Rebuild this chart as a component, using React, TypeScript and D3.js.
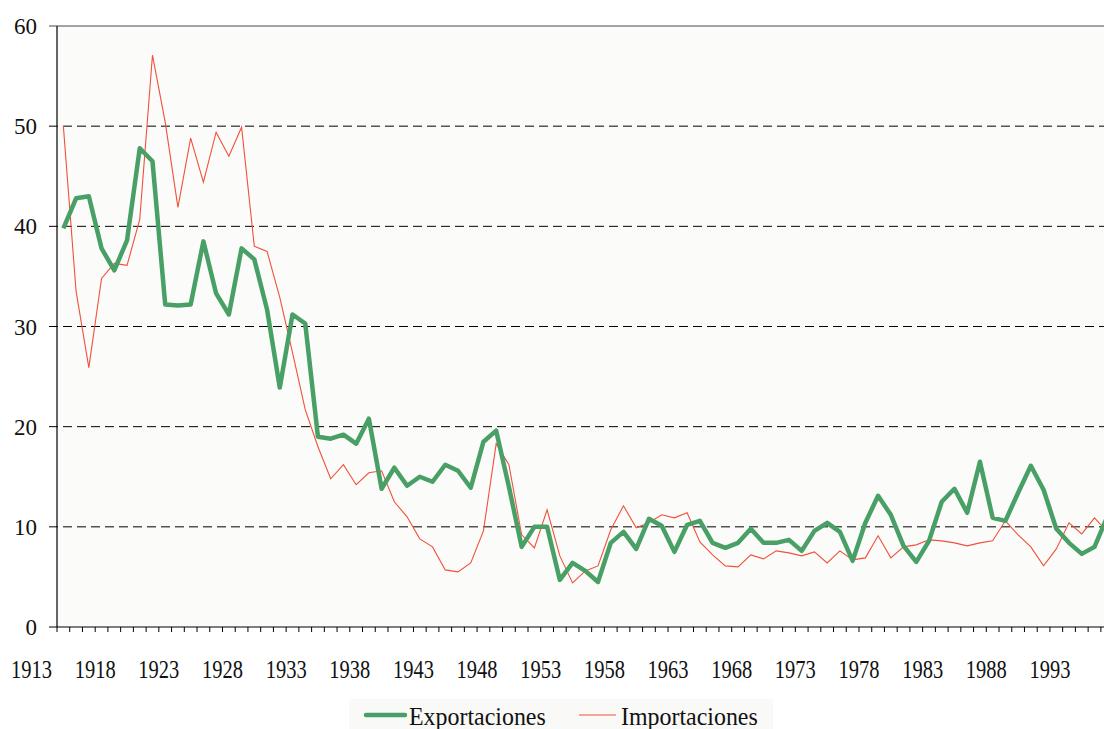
import React from 'react';
import * as d3 from 'd3';

// years 1915..1997, one value per year
const firstYear = 1915;
const exportaciones = [
  39.8, 42.8, 43.0, 37.8, 35.6, 38.6, 47.8, 46.5, 32.2, 32.1,
  32.2, 38.5, 33.3, 31.2, 37.8, 36.7, 31.7, 23.9, 31.2, 30.3,
  19.0, 18.8, 19.2, 18.3, 20.8, 13.8, 15.9, 14.1, 15.0, 14.5,
  16.2, 15.6, 13.9, 18.5, 19.6, 14.0, 8.0, 10.0, 10.0, 4.7,
  6.4, 5.6, 4.5, 8.4, 9.5, 7.8, 10.8, 10.1, 7.5, 10.2,
  10.6, 8.4, 7.9, 8.4, 9.8, 8.4, 8.4, 8.7, 7.6, 9.6,
  10.4, 9.5, 6.6, 10.4, 13.1, 11.2, 8.1, 6.5, 8.6, 12.5,
  13.8, 11.4, 16.5, 10.9, 10.6, 13.4, 16.1, 13.7, 9.8, 8.4,
  7.3, 8.0, 11.0,
];
const importaciones = [
  50.0, 33.5, 25.9, 34.8, 36.3, 36.1, 40.7, 57.1, 50.4, 41.9,
  48.8, 44.4, 49.4, 47.0, 49.9, 38.0, 37.5, 32.9, 27.4, 21.7,
  18.0, 14.8, 16.2, 14.2, 15.4, 15.6, 12.5, 11.0, 8.8, 8.0,
  5.7, 5.5, 6.4, 9.6, 18.3, 16.2, 9.2, 7.9, 11.7, 7.1,
  4.4, 5.6, 6.1, 9.7, 12.1, 9.9, 10.4, 11.2, 10.9, 11.4,
  8.5, 7.2, 6.1, 6.0, 7.2, 6.8, 7.6, 7.4, 7.1, 7.5,
  6.4, 7.6, 6.7, 6.9, 9.1, 6.9, 8.0, 8.2, 8.7, 8.6,
  8.4, 8.1, 8.4, 8.6, 10.6, 9.2, 8.0, 6.1, 7.8, 10.4,
  9.3, 10.9, 9.5,
];
const yearLabels = d3.range(1913, 1994, 5);
const yTicks = [0, 10, 20, 30, 40, 50, 60];

const W = 1104;
const H = 729;
const left = 57;
const step = 12.73;
const nYears = exportaciones.length;
const serif = { fontFamily: "'Liberation Serif', 'DejaVu Serif', serif" };

export default function App() {
  const x = d3.scaleLinear().domain([firstYear, firstYear + nYears]).range([left, left + nYears * step]);
  const y = d3.scaleLinear().domain([0, 60]).range([627, 26]);
  const line = d3.line<number>()
    .x((_, i) => x(firstYear + i + 0.5))
    .y(d => y(d));
  const tickYears = d3.range(firstYear, firstYear + nYears + 1);

  return (
    <svg width={W} height={H} style={{ position: 'absolute', left: 0, top: 0 }}>
      <defs>
        <clipPath id="plot">
          <rect x={left} y={y(60) - 5} width={W - left} height={y(0) - y(60) + 5} />
        </clipPath>
      </defs>
      <rect x={left} y={y(60)} width={W - left} height={y(0) - y(60)} fill="#fbfbf9" />
      {yTicks.filter(v => v > 0 && v < 60).map(v => (
        <line key={v} x1={left - 8} x2={W} y1={y(v)} y2={y(v)} stroke="#000" strokeWidth={1} strokeDasharray="9,5" />
      ))}
      <line x1={left - 8} x2={W} y1={y(60)} y2={y(60)} stroke="#7f8a86" strokeWidth={1.5} />
      <line x1={left - 8} x2={left} y1={y(0)} y2={y(0)} stroke="#000" />
      <line x1={left} x2={left} y1={y(60)} y2={y(0)} stroke="#000" strokeWidth={1.2} />
      <line x1={left} x2={W} y1={y(0)} y2={y(0)} stroke="#000" strokeWidth={1.2} />
      {tickYears.map(t => (
        <line key={t} x1={x(t)} x2={x(t)} y1={y(0)} y2={y(0) + 5} stroke="#000" />
      ))}
      {yTicks.map(v => (
        <text key={v} x={37} y={y(v) + 8} textAnchor="end" fontSize={23} fill="#111" style={serif}>{v}</text>
      ))}
      {yearLabels.map(t => (
        <text key={t} transform={`translate(${x(t)},678) scale(0.82,1)`} textAnchor="middle" fontSize={25} fill="#111" style={serif}>{t}</text>
      ))}
      <g clipPath="url(#plot)">
        <path d={line(importaciones) || ''} fill="none" stroke="#f0513c" strokeWidth={1.1} />
        <path d={line(exportaciones) || ''} fill="none" stroke="#48a066" strokeWidth={4.5} strokeLinejoin="round" />
      </g>
      <g>
        <rect x={349} y={699} width={424} height={32} fill="#f9f9f7" />
        <line x1={366} x2={405} y1={715} y2={715} stroke="#48a066" strokeWidth={4.5} strokeLinecap="round" />
        <text transform="translate(409,725) scale(0.92,1)" fontSize={26} fill="#111" style={serif}>Exportaciones</text>
        <line x1={579} x2={616} y1={715} y2={715} stroke="#f0513c" strokeWidth={1.1} />
        <text transform="translate(621,725) scale(0.92,1)" fontSize={26} fill="#111" style={serif}>Importaciones</text>
      </g>
    </svg>
  );
}
